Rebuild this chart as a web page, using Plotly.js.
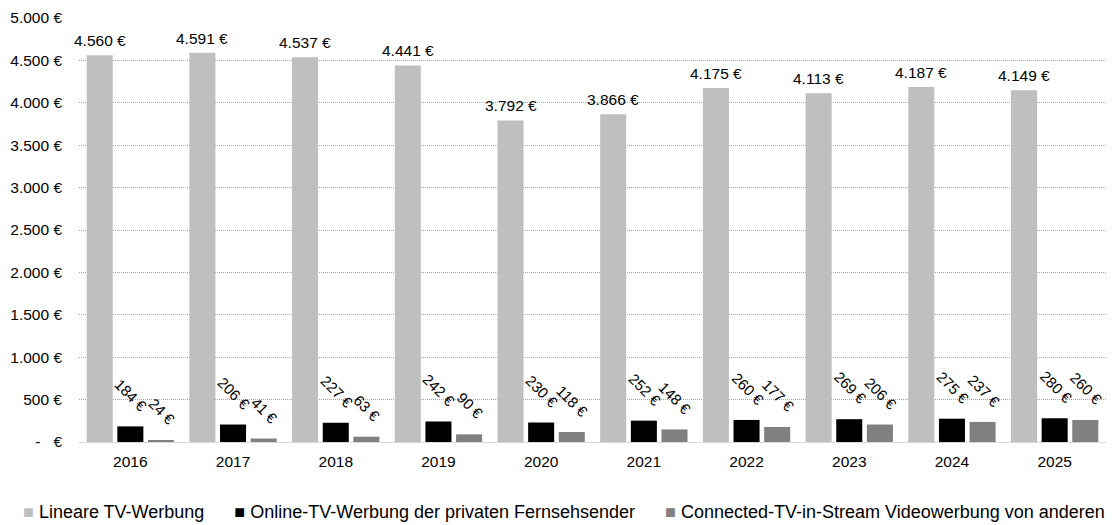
<!DOCTYPE html>
<html>
<head>
<meta charset="utf-8">
<script src="https://cdn.plot.ly/plotly-3.0.1.min.js"></script>
<style>html,body{margin:0;padding:0;background:#fff;}#chart{width:1114px;height:525px;}</style>
</head>
<body>
<div id="chart"></div>
<script>
const years = ['2016','2017','2018','2019','2020','2021','2022','2023','2024','2025'];
const linearTV = [4560, 4591, 4537, 4441, 3792, 3866, 4175, 4113, 4187, 4149];
const onlineTV = [184, 206, 227, 242, 230, 252, 260, 269, 275, 280];
const connectedTV = [24, 41, 63, 90, 118, 148, 177, 206, 237, 260];
const seriesNames = ['Lineare TV-Werbung', 'Online-TV-Werbung der privaten Fernsehsender', 'Connected-TV-in-Stream Videowerbung von anderen'];
const seriesColors = ['#BFBFBF', '#000000', '#808080'];
const yTickVals = [0, 500, 1000, 1500, 2000, 2500, 3000, 3500, 4000, 4500, 5000];
const yTickText = ['-   €', '500 €', '1.000 €', '1.500 €', '2.000 €', '2.500 €', '3.000 €', '3.500 €', '4.000 €', '4.500 €', '5.000 €'];

const font = 'Liberation Sans, Arial, sans-serif';
const W = 1114, H = 525, ML = 79, MR = 8, MT = 18, MB = 83;
const BARGAP = 0.105;

function euro(v) {
  return String(v).replace(/\B(?=(\d{3})+(?!\d))/g, '.') + ' €';
}

const traces = [linearTV, onlineTV, connectedTV].map((vals, i) => ({
  type: 'bar', x: years, y: vals, name: seriesNames[i],
  marker: {color: seriesColors[i]}, hoverinfo: 'skip'
}));

// value labels as annotations anchored to each bar (category index + group offset)
const catPx = (W - ML - MR) / years.length;
const slotPx = catPx * (1 - BARGAP) / 3;
const seriesVals = [linearTV, onlineTV, connectedTV];
const annotations = [];
seriesVals.forEach((vals, s) => {
  vals.forEach((v, k) => {
    annotations.push({
      x: k, y: v, xref: 'x', yref: 'y',
      text: euro(v), showarrow: false,
      xanchor: 'center', yanchor: 'bottom',
      xshift: (s - 1) * slotPx + (s === 0 ? 0 : 1),
      yshift: s === 0 ? 4 : 9,
      textangle: s === 0 ? 0 : 45,
      font: {family: font, size: s === 0 ? 15.5 : 15, color: '#000'}
    });
  });
});

// custom legend: small coloured squares next to names
const nb = '\u00A0';
const legendText = seriesNames.map((n, i) =>
  '<span style="color:' + seriesColors[i] + '">■</span>' + nb + n
).join(nb.repeat(6));
annotations.push({
  xref: 'paper', yref: 'paper', x: (564 - ML) / (W - ML - MR), y: -0.165,
  xanchor: 'center', yanchor: 'middle',
  text: legendText, showarrow: false, font: {family: font, size: 18, color: '#000'}
});

const layout = {
  width: W, height: H,
  margin: {l: ML, r: MR, t: MT, b: MB},
  paper_bgcolor: '#fff', plot_bgcolor: '#fff',
  barmode: 'group',
  bargap: BARGAP,
  bargroupgap: 0.15,
  font: {family: font, size: 16, color: '#000'},
  showlegend: false,
  annotations: annotations,
  xaxis: {
    type: 'category', range: [-0.5, years.length - 0.5], autorange: false,
    showgrid: false, zeroline: false,
    showline: true, linecolor: '#D9D9D9', linewidth: 1,
    ticks: '', ticklabelstandoff: 5,
    tickfont: {family: font, size: 15.5, color: '#000'}
  },
  yaxis: {
    range: [0, 5000], autorange: false, tickvals: yTickVals, ticktext: yTickText,
    showgrid: true, gridcolor: '#A6A6A6', griddash: '1px,1px', gridwidth: 1,
    zeroline: false, showline: false, ticks: '', ticklabelstandoff: 16,
    tickfont: {family: font, size: 15.5, color: '#000'}
  }
};
Plotly.newPlot('chart', traces, layout, {displayModeBar: false, staticPlot: true});
</script>
</body>
</html>
